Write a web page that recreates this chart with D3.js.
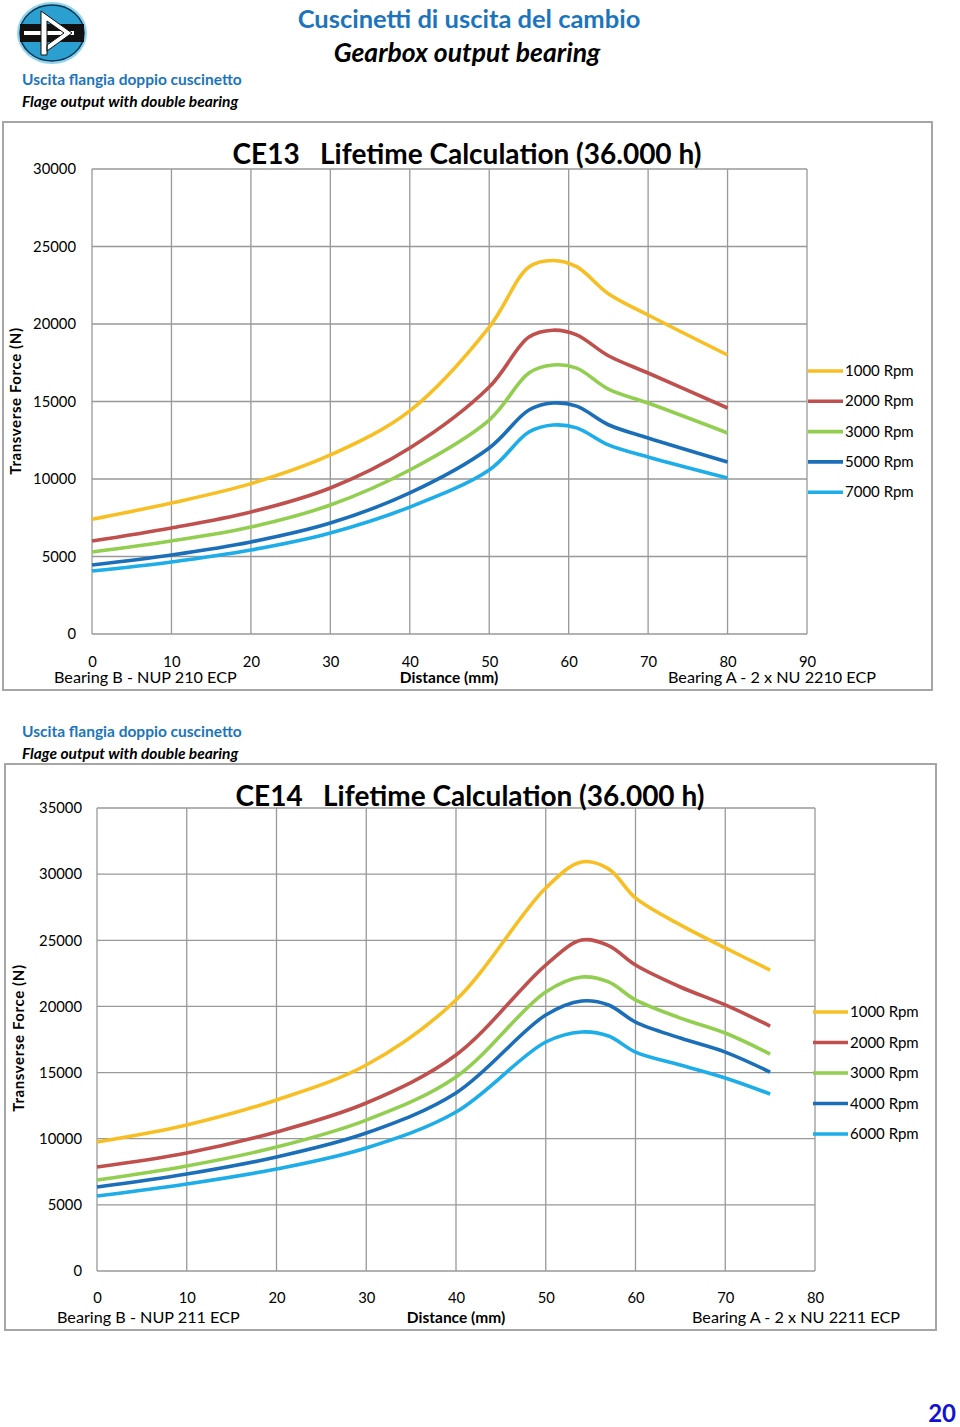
<!DOCTYPE html>
<html><head><meta charset="utf-8">
<script src="https://cdn.jsdelivr.net/npm/d3@7"></script>
<style>
body{margin:0;background:#fff;}
svg text{font-family:Lato,"Open Sans",sans-serif;}
</style></head>
<body><svg id="c" width="960" height="1427"></svg>
<script>
// ---------- DATA ----------
const xTicks1 = [0,10,20,30,40,50,60,70,80,90];
const yTicks1 = [0,5000,10000,15000,20000,25000,30000];
const series1Names = ["1000 Rpm","2000 Rpm","3000 Rpm","5000 Rpm","7000 Rpm"];
const distance1 = [0,10,20,30,40,50,55,58,61,65,70,80];
const s1_1000 = [7400,8450,9700,11550,14400,19800,23680,24100,23700,21950,20580,18000];
const s1_2000 = [6000,6840,7870,9420,12000,15930,19160,19600,19300,17950,16840,14580];
const s1_3000 = [5290,6000,6900,8320,10580,13800,16840,17350,17150,15800,14900,12970];
const s1_5000 = [4450,5100,5940,7160,9100,12000,14450,14900,14700,13500,12650,11100];
const s1_7000 = [4060,4650,5420,6520,8190,10580,13030,13480,13300,12200,11420,10060];

const xTicks2 = [0,10,20,30,40,50,60,70,80];
const yTicks2 = [0,5000,10000,15000,20000,25000,30000,35000];
const series2Names = ["1000 Rpm","2000 Rpm","3000 Rpm","4000 Rpm","6000 Rpm"];
const distance2 = [0,10,20,30,40,50,54,57,60,65,70,75];
const s2_1000 = [9750,11040,12930,15570,20490,28950,30920,30400,28200,26160,24420,22750];
const s2_2000 = [7860,8920,10510,12700,16330,23130,25020,24600,23130,21470,20110,18520];
const s2_3000 = [6880,7940,9370,11410,14670,21090,22220,21850,20490,19120,17990,16400];
const s2_4000 = [6350,7330,8620,10430,13460,19350,20410,20110,18820,17610,16550,15040];
const s2_6000 = [5670,6580,7710,9300,12020,17310,18070,17760,16550,15570,14590,13380];

const colors = ["#F8BF24","#C0504D","#92CF50","#1A6FB8","#1DADE8"];

// ---------- DRAW ----------
const svg = d3.select("#c");

// logo
const logo = svg.append("g").attr("transform","translate(52,33)");
logo.append("ellipse").attr("rx",35).attr("ry",31).attr("fill","#8fd3ee");
logo.append("ellipse").attr("rx",32).attr("ry",28).attr("fill","#2a9fd0").attr("stroke","#0d3550").attr("stroke-width",1.5);
logo.append("rect").attr("x",-32).attr("y",-9).attr("width",64).attr("height",18).attr("fill","#111");
logo.append("path").attr("d","M-28,-2 H22 V2 H-28 Z").attr("fill","#fff");
logo.append("path").attr("d","M-11,-22 L-11,22 L-5,22 L-5,-12 L12,0 L-5,12 L-5,18 L20,0 Z").attr("fill","#fff").attr("stroke","#111").attr("stroke-width",1);

svg.append("text").attr("x",469).attr("y",28).attr("text-anchor","middle")
  .attr("font-size",25.5).attr("font-weight","bold").attr("fill","#1C75BC").text("Cuscinetti di uscita del cambio");
svg.append("text").attr("x",467).attr("y",62).attr("text-anchor","middle")
  .attr("font-size",26.5).attr("font-weight","bold").attr("font-style","italic").attr("fill","#000").text("Gearbox output bearing");

function header(y){
  svg.append("text").attr("x",22).attr("y",y).attr("font-size",15.5).attr("font-weight","bold").attr("fill","#1C75BC").text("Uscita flangia doppio cuscinetto");
  svg.append("text").attr("x",22).attr("y",y+22).attr("font-size",15.5).attr("font-weight","bold").attr("font-style","italic").attr("fill","#000").text("Flage output with double bearing");
}
header(85);
header(737);

function chart(cfg){
  const g = svg.append("g");
  g.append("rect").attr("x",cfg.box[0]).attr("y",cfg.box[1]).attr("width",cfg.box[2]).attr("height",cfg.box[3])
    .attr("fill","none").attr("stroke","#a6a6a6").attr("stroke-width",2);
  const x = d3.scaleLinear().domain(cfg.xDomain).range([cfg.left,cfg.right]);
  const y = d3.scaleLinear().domain(cfg.yDomain).range([cfg.bottom,cfg.top]);
  // grid
  g.selectAll(".vg").data(cfg.xTicks).join("line")
    .attr("x1",d=>x(d)).attr("x2",d=>x(d)).attr("y1",cfg.top).attr("y2",cfg.bottom)
    .attr("stroke","#999").attr("stroke-width",1.3);
  g.selectAll(".hg").data(cfg.yTicks).join("line")
    .attr("x1",cfg.left).attr("x2",cfg.right).attr("y1",d=>y(d)).attr("y2",d=>y(d))
    .attr("stroke","#999").attr("stroke-width",1.3);
  const ya = g.append("g").attr("transform",`translate(${cfg.yLabelX},0)`)
    .call(d3.axisLeft(y).tickValues(cfg.yTicks).tickSize(0).tickPadding(0).tickFormat(d3.format("d")));
  ya.select(".domain").remove();
  ya.selectAll("text").attr("font-size",14.8).attr("fill","#000").attr("font-family","Lato,'Open Sans',sans-serif");
  const xa = g.append("g").attr("transform",`translate(0,${cfg.xLabelY})`)
    .call(d3.axisBottom(x).tickValues(cfg.xTicks).tickSize(0).tickPadding(0).tickFormat(d3.format("d")));
  xa.select(".domain").remove();
  xa.selectAll("text").attr("font-size",14.8).attr("fill","#000").attr("font-family","Lato,'Open Sans',sans-serif");
  // title
  g.append("text").attr("x",cfg.titleX).attr("y",cfg.titleY).attr("text-anchor","middle")
    .attr("font-size",28).attr("font-weight","bold").attr("fill","#000").attr("xml:space","preserve").text(cfg.title);
  g.append("text").attr("transform",`translate(${cfg.yTitleX},${cfg.yTitleY}) rotate(-90)`).attr("text-anchor","middle")
    .attr("font-size",15).attr("letter-spacing",0.6).attr("font-weight","bold").text("Transverse Force (N)");
  g.append("text").attr("x",cfg.distX).attr("y",cfg.footY).attr("text-anchor","middle").attr("font-size",15.5).attr("font-weight","bold").text("Distance (mm)");
  g.append("text").attr("x",cfg.bLeftX).attr("y",cfg.footY).attr("font-size",16.2).text(cfg.bLeft);
  g.append("text").attr("x",cfg.bRightX).attr("y",cfg.footY).attr("font-size",16.2).text(cfg.bRight);
  // lines
  const line = d3.line().x(d=>x(d[0])).y(d=>y(d[1])).curve(d3.curveCatmullRom.alpha(0.5));
  cfg.series.forEach((s,i)=>{
    const pts = cfg.dist.map((d,j)=>[d,s[j]]);
    g.append("path").attr("d",line(pts)).attr("fill","none").attr("stroke",colors[i]).attr("stroke-width",3.6).attr("stroke-linejoin","round");
  });
  // legend
  cfg.names.forEach((n,i)=>{
    const ly = cfg.legY + i*cfg.legStep;
    g.append("line").attr("x1",cfg.legX).attr("x2",cfg.legX+35).attr("y1",ly).attr("y2",ly)
      .attr("stroke",colors[i]).attr("stroke-width",3.6);
    g.append("text").attr("x",cfg.legX+37).attr("y",ly+5).attr("font-size",15).text(n);
  });
}

chart({box:[3,122,929,568], xDomain:[0,90], yDomain:[0,30000], left:92, right:807, top:169, bottom:634,
  xTicks:xTicks1, yTicks:yTicks1, yLabelX:76, xLabelY:656, title:"CE13   Lifetime Calculation (36.000 h)", titleX:467, titleY:164,
  yTitleX:21, yTitleY:401, distX:449, footY:683, bLeft:"Bearing B - NUP 210 ECP", bLeftX:54, bRight:"Bearing A - 2 x NU 2210 ECP", bRightX:668,
  dist:distance1, series:[s1_1000,s1_2000,s1_3000,s1_5000,s1_7000], names:series1Names, legX:808, legY:371, legStep:30.3});

chart({box:[5,764,931,566], xDomain:[0,80], yDomain:[0,35000], left:97, right:815, top:808, bottom:1271,
  xTicks:xTicks2, yTicks:yTicks2, yLabelX:82, xLabelY:1292, title:"CE14   Lifetime Calculation (36.000 h)", titleX:470, titleY:806,
  yTitleX:24, yTitleY:1038, distX:456, footY:1323, bLeft:"Bearing B - NUP 211 ECP", bLeftX:57, bRight:"Bearing A - 2 x NU 2211 ECP", bRightX:692,
  dist:distance2, series:[s2_1000,s2_2000,s2_3000,s2_4000,s2_6000], names:series2Names, legX:813, legY:1012, legStep:30.5});

svg.append("text").attr("x",956).attr("y",1422).attr("text-anchor","end").attr("font-size",24).attr("font-weight","bold").attr("fill","#1212D4").text("20");
</script></body></html>
